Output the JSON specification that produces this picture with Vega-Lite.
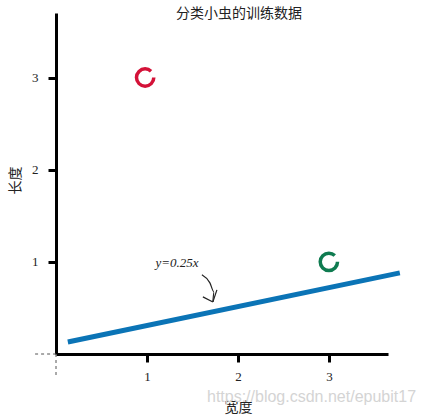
{
  "$schema": "https://vega.github.io/schema/vega-lite/v6.json",
  "width": 332,
  "height": 341,
  "autosize": {"type": "none"},
  "padding": {"left": 56, "top": 13, "right": 35, "bottom": 61},
  "background": "white",
  "title": {
    "text": "分类小虫的训练数据",
    "font": "Noto Sans CJK SC",
    "fontSize": 14,
    "fontWeight": "normal",
    "color": "#222",
    "anchor": "middle",
    "dx": 17,
    "offset": -8
  },
  "config": {"view": {"stroke": null}},
  "datasets": {
    "line": [{"w": 0.13, "l": 0.13}, {"w": 3.78, "l": 0.88}],
    "bugs": [{"w": 0.98, "l": 3, "cls": "A"}, {"w": 3, "l": 1, "cls": "B"}],
    "arrow": [
      {"part": "curve", "o": 1, "w": 1.604, "l": 0.859},
      {"part": "curve", "o": 2, "w": 1.692, "l": 0.772},
      {"part": "curve", "o": 3, "w": 1.736, "l": 0.674},
      {"part": "curve", "o": 4, "w": 1.725, "l": 0.565},
      {"part": "barbL", "o": 1, "w": 1.615, "l": 0.62},
      {"part": "barbL", "o": 2, "w": 1.725, "l": 0.565},
      {"part": "barbR", "o": 1, "w": 1.769, "l": 0.696},
      {"part": "barbR", "o": 2, "w": 1.725, "l": 0.565}
    ],
    "ext": [
      {"part": "xext", "w": -0.23, "l": 0},
      {"part": "xext", "w": 0, "l": 0},
      {"part": "yext", "w": 0, "l": 0},
      {"part": "yext", "w": 0, "l": -0.23}
    ],
    "label": [{"w": 1.33, "l": 0.99, "t": "y=0.25x"}],
    "wm": [{"w": 1.66, "l": -0.467, "t": "https://blog.csdn.net/epubit17"}]
  },
  "encoding": {
    "x": {
      "field": "w", "type": "quantitative",
      "scale": {"domain": [0, 3.65], "nice": false, "zero": false},
      "axis": {
        "values": [1, 2, 3], "title": "宽度", "grid": false,
        "domainColor": "black", "domainWidth": 3,
        "tickColor": "black", "tickWidth": 3, "tickSize": 8,
        "labelFont": "Liberation Serif", "labelFontSize": 13, "labelColor": "#222", "labelPadding": 8,
        "titleFont": "Noto Sans CJK SC", "titleFontSize": 14, "titleFontWeight": "normal", "titleColor": "#222",
        "titleX": 182, "titleY": 53, "titleBaseline": "middle"
      }
    },
    "y": {
      "field": "l", "type": "quantitative",
      "scale": {"domain": [0, 3.7], "nice": false, "zero": false},
      "axis": {
        "values": [1, 2, 3], "title": "长度", "grid": false,
        "domainColor": "black", "domainWidth": 3,
        "tickColor": "black", "tickWidth": 3, "tickSize": 8,
        "labelFont": "Liberation Serif", "labelFontSize": 13, "labelColor": "#222", "labelPadding": 10,
        "titleFont": "Noto Sans CJK SC", "titleFontSize": 14, "titleFontWeight": "normal", "titleColor": "#222",
        "titleX": -41, "titleY": 167, "titleBaseline": "middle", "titleAlign": "center"
      }
    }
  },
  "layer": [
    {
      "data": {"name": "ext"},
      "mark": {"type": "line", "color": "#555", "strokeWidth": 1, "strokeDash": [3, 3], "clip": false},
      "encoding": {"detail": {"field": "part"}}
    },
    {
      "data": {"name": "wm"},
      "mark": {"type": "text", "align": "left", "baseline": "middle", "font": "Liberation Sans", "fontSize": 16, "color": "#d4d4d4", "clip": false},
      "encoding": {"text": {"field": "t"}}
    },
    {
      "data": {"name": "line"},
      "mark": {"type": "line", "color": "#0b74b6", "strokeWidth": 5, "clip": false}
    },
    {
      "data": {"name": "bugs"},
      "mark": {"type": "point", "shape": "circle", "filled": false, "size": 300, "strokeWidth": 3.5, "opacity": 1, "strokeDash": [47, 7]},
      "encoding": {
        "color": {"field": "cls", "type": "nominal", "scale": {"domain": ["A", "B"], "range": ["#d41238", "#0f7b50"]}, "legend": null}
      }
    },
    {
      "data": {"name": "arrow"},
      "mark": {"type": "line", "color": "#222", "strokeWidth": 1.2, "interpolate": "monotone"},
      "encoding": {"detail": {"field": "part"}, "order": {"field": "o"}}
    },
    {
      "data": {"name": "label"},
      "mark": {"type": "text", "font": "Liberation Serif", "fontSize": 13, "fontStyle": "italic", "color": "#222", "baseline": "middle"},
      "encoding": {"text": {"field": "t"}}
    }
  ]
}
